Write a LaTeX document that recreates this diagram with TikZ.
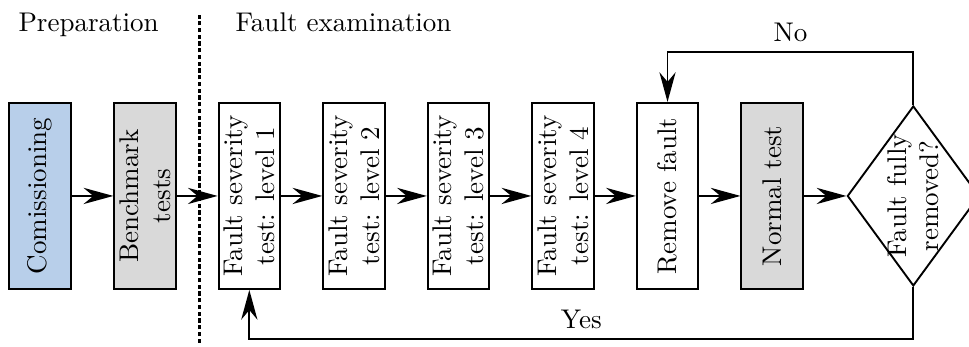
\documentclass[tikz,border=0pt]{standalone}
\usepackage{tikz}
\usepackage{xcolor}
\usetikzlibrary{arrows.meta,shapes.geometric}

\definecolor{prepblue}{RGB}{184,207,234}
\definecolor{testgray}{RGB}{217,217,217}

\begin{document}
\begin{tikzpicture}[
  box/.style={draw, rotate=90, line width=0.7pt, minimum width=2.42cm, minimum height=0.80cm, inner sep=0pt, align=center},
  decision/.style={draw, diamond, rotate=90, line width=0.7pt, minimum width=2.34cm, minimum height=1.716cm, inner sep=-3pt, aspect=1.36, align=center},
  flow/.style={line width=0.7pt, -{Stealth[length=11pt,width=6pt]}}]
  % Fix the page size
  \useasboundingbox (0,0) rectangle (12.6,4.512);

  \node[anchor=base west, inner sep=0pt] (prep) at (0.234,4.1) {Preparation};
  \node[anchor=base west, inner sep=0pt] (exam) at (3.056,4.1) {Fault examination};
  \draw[line width=1.1pt, dash pattern=on 1.6pt off 0.9pt] (2.588,0.052) -- (2.588,4.317);

  \node[box, fill=prepblue] (comm) at (0.52,1.964) {Comissioning};
  \node[box, fill=testgray] (bench) at (1.886,1.964) {Benchmark\\tests};
  \node[box] (lvl1) at (3.242,1.964) {Fault severity\\test: level 1};
  \node[box] (lvl2) at (4.603,1.964) {Fault severity\\test: level 2};
  \node[box] (lvl3) at (5.962,1.964) {Fault severity\\test: level 3};
  \node[box] (lvl4) at (7.321,1.964) {Fault severity\\test: level 4};
  \node[box] (remove) at (8.68,1.964) {Remove fault};
  \node[box, fill=testgray] (normal) at (10.041,1.964) {Normal test};
  \node[decision] (check) at (11.876,1.964) {Fault fully\\removed?};

  \draw[flow] (comm) -- (bench);
  \draw[flow] (bench) -- (lvl1);
  \draw[flow] (lvl1) -- (lvl2);
  \draw[flow] (lvl2) -- (lvl3);
  \draw[flow] (lvl3) -- (lvl4);
  \draw[flow] (lvl4) -- (remove);
  \draw[flow] (remove) -- (normal);
  \draw[flow] (normal) -- (check);

  % nodes are turned, so east is up and west is down
  \draw[flow] (check.east) -- ++(0,0.689) -| node[pos=0.25, above] {No} (remove.east);
  \draw[flow] (check.west) -- ++(0,-0.68) -| node[pos=0.25, above] {Yes} (lvl1.west);
\end{tikzpicture}
\end{document}
